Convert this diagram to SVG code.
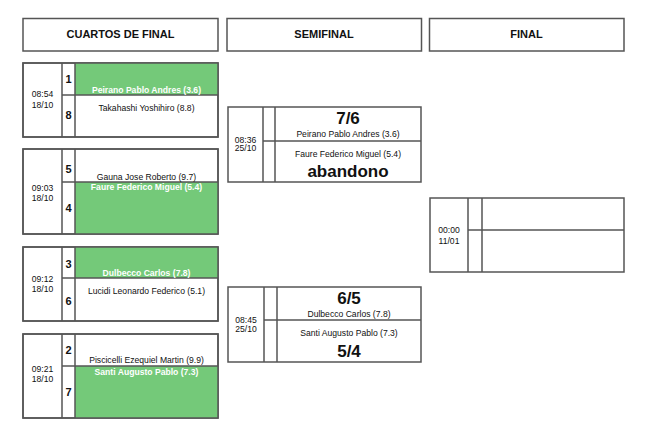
<svg xmlns="http://www.w3.org/2000/svg" width="655" height="428" viewBox="0 0 655 428">
<style>
text{font-family:"Liberation Sans",Arial,sans-serif;fill:#111;text-anchor:middle}
.hd{font-size:11px;font-weight:bold}
.t{font-size:8.6px}
.n{font-size:8.6px}
.w{font-size:8.6px;font-weight:bold;fill:#fff}
.num{font-size:11px;font-weight:bold}
.sc{font-size:17px;font-weight:bold}
.box{fill:#fff;stroke:#555;stroke-width:1.5}
.ln{stroke:#555;stroke-width:1.5;fill:none}
.g{fill:#74c979}
</style>
<rect width="655" height="428" fill="#fff"/>
<g id="headers">
<g id="h-cuartos"><rect class="box" x="23" y="18.5" width="195" height="32.5"/><text class="hd" x="120.5" y="38.3">CUARTOS DE FINAL</text></g>
<g id="h-semi"><rect class="box" x="227" y="18.5" width="194.5" height="32.5"/><text class="hd" x="324" y="38.3">SEMIFINAL</text></g>
<g id="h-final"><rect class="box" x="429.5" y="18.5" width="194.5" height="32.5"/><text class="hd" x="526.5" y="38.3">FINAL</text></g>
</g>
<g id="qf1">
<rect class="box" x="23" y="63" width="195" height="74"/>
<rect class="g" x="75" y="63" width="143" height="32"/>
<path class="ln" d="M23 63H218V137H23Z M62 63V137 M75 63V137 M62 95H218"/>
<text class="t" x="42.5" y="97.3">08:54</text><text class="t" x="42.5" y="107.7">18/10</text>
<text class="num" x="68.5" y="83.3">1</text><text class="num" x="68.5" y="119">8</text>
<text class="w" x="146.5" y="92.5">Peirano Pablo Andres (3.6)</text>
<text class="n" x="146.5" y="110.5">Takahashi Yoshihiro (8.8)</text>
</g>
<g id="qf2">
<rect class="box" x="23" y="149" width="195" height="85"/>
<rect class="g" x="75" y="182" width="143" height="52"/>
<path class="ln" d="M23 149H218V234H23Z M62 149V234 M75 149V234 M62 182H218"/>
<text class="t" x="42.5" y="191">09:03</text><text class="t" x="42.5" y="200.5">18/10</text>
<text class="num" x="68.5" y="173.3">5</text><text class="num" x="68.5" y="212.3">4</text>
<text class="n" x="146.5" y="180">Gauna Jose Roberto (9.7)</text>
<text class="w" x="146.5" y="190">Faure Federico Miguel (5.4)</text>
</g>
<g id="qf3">
<rect class="box" x="23" y="247" width="195" height="74"/>
<rect class="g" x="75" y="247" width="143" height="31"/>
<path class="ln" d="M23 247H218V321H23Z M62 247V321 M75 247V321 M62 278H218"/>
<text class="t" x="42.5" y="281.7">09:12</text><text class="t" x="42.5" y="291.5">18/10</text>
<text class="num" x="68.5" y="268">3</text><text class="num" x="68.5" y="305">6</text>
<text class="w" x="146.5" y="275.5">Dulbecco Carlos (7.8)</text>
<text class="n" x="146.5" y="294">Lucidi Leonardo Federico (5.1)</text>
</g>
<g id="qf4">
<rect class="box" x="23" y="334" width="195" height="84"/>
<rect class="g" x="75" y="366" width="143" height="52"/>
<path class="ln" d="M23 334H218V418H23Z M62 334V418 M75 334V418 M62 366H218"/>
<text class="t" x="42.5" y="371.7">09:21</text><text class="t" x="42.5" y="381.5">18/10</text>
<text class="num" x="68.5" y="354">2</text><text class="num" x="68.5" y="396">7</text>
<text class="n" x="146.5" y="363">Piscicelli Ezequiel Martin (9.9)</text>
<text class="w" x="146.5" y="374.5">Santi Augusto Pablo (7.3)</text>
</g>
<g id="sf1">
<rect class="box" x="228" y="107" width="193" height="75"/>
<path class="ln" d="M263 107V182 M275 107V182 M263 141H421"/>
<text class="t" x="245.5" y="142.5">08:36</text><text class="t" x="245.5" y="151">25/10</text>
<text class="sc" x="348" y="124.3">7/6</text>
<text class="n" x="348" y="137.3">Peirano Pablo Andres (3.6)</text>
<text class="n" x="348" y="156.5">Faure Federico Miguel (5.4)</text>
<text class="sc" x="348" y="176.7">abandono</text>
</g>
<g id="sf2">
<rect class="box" x="228" y="287" width="193" height="75"/>
<path class="ln" d="M264 287V362 M277 287V362 M264 320H421"/>
<text class="t" x="246" y="322.5">08:45</text><text class="t" x="246" y="331.5">25/10</text>
<text class="sc" x="349" y="304.3">6/5</text>
<text class="n" x="349" y="316.5">Dulbecco Carlos (7.8)</text>
<text class="n" x="349" y="335.5">Santi Augusto Pablo (7.3)</text>
<text class="sc" x="349" y="356.7">5/4</text>
</g>
<g id="final">
<rect class="box" x="430" y="198" width="194" height="74"/>
<path class="ln" d="M468 198V272 M482 198V272 M468 230H624"/>
<text class="t" x="449" y="232.7">00:00</text><text class="t" x="449" y="244">11/01</text>
</g>
<g id="connectors"/>
</svg>
